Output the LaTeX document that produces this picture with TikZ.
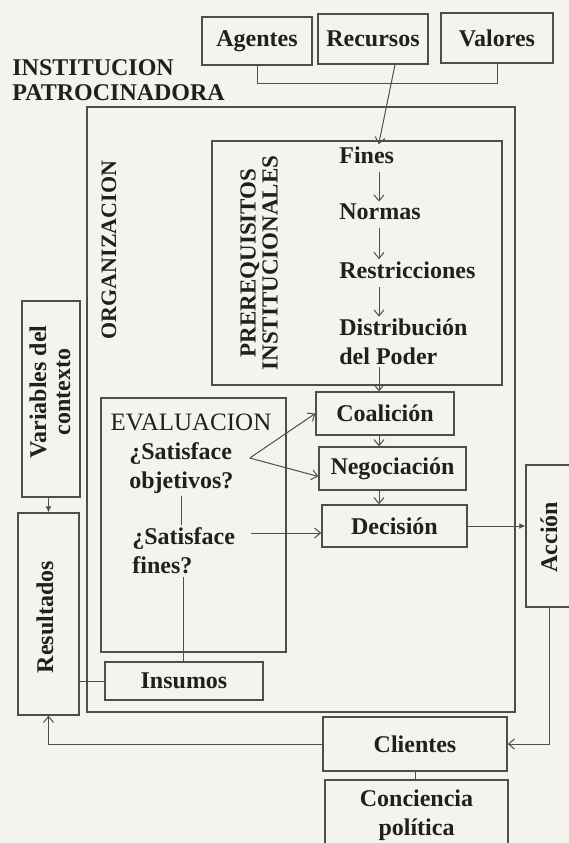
\documentclass[tikz,border=0pt]{standalone}
\usepackage{fontspec}
\setmainfont{Liberation Serif}
\usepackage{tikz}
\usetikzlibrary{arrows.meta,positioning,calc}
\usepackage{xcolor}
\definecolor{paper}{RGB}{245,243,238}
\definecolor{ink}{RGB}{34,32,30}
\definecolor{rule}{RGB}{80,78,75}

\begin{document}
\begin{tikzpicture}[x=0.5pt, y=-0.5pt,
    box/.style={rectangle, draw=rule, line width=0.7pt, inner sep=0pt, text=ink,
               font=\fontsize{12}{14.5}\selectfont\bfseries, align=center},
    lbl/.style={inner sep=1pt, text=ink, font=\fontsize{12}{14.5}\selectfont\bfseries, align=left},
    vlbl/.style={inner sep=1pt, rotate=90, text=ink, font=\fontsize{12}{12}\selectfont\bfseries, align=center},
    lnk/.style={draw=rule, line width=0.5pt},
    arr/.style={lnk, -{Straight Barb[length=3pt,width=5pt]}},
    arrs/.style={lnk, -{Latex[length=3pt,width=3pt]}}
]
    \path[use as bounding box, fill=paper] (0,0) rectangle (569,843);

    % Sponsoring institution and its inputs
    \node[lbl, anchor=west, font=\fontsize{12}{12.5}\selectfont\bfseries] (ip) at (10,80)
        {INSTITUCION\\PATROCINADORA};
    \node[box, minimum width=55pt, minimum height=24pt] (ag) at (257,41) {Agentes};
    \node[box, minimum width=55pt, minimum height=25pt] (rc) at (373,39) {Recursos};
    \node[box, minimum width=56pt, minimum height=25pt] (vl) at (497,38) {Valores};
    \draw[lnk] (ag.south) -- ++(0,18) -| (vl.south);

    % Organization frame
    \node[box, minimum width=214pt, minimum height=302.5pt] (org) at (301,409.5) {};
    \node[vlbl, font=\fontsize{11}{11}\selectfont\bfseries] (orgtxt) at (109,250) {ORGANIZACION};

    % Institutional prerequisites: Fines -> Normas -> Restricciones -> Poder
    \node[box, minimum width=145pt, minimum height=122pt] (pre) at (357,263) {};
    \node[vlbl, font=\fontsize{11.5}{11}\selectfont\bfseries] (pretxt) at (259,263)
        {PREREQUISITOS\\INSTITUCIONALES};
    \coordinate (sp) at (379,0);
    \node[lbl, anchor=west] (fi) at (337,155) {Fines};
    \node[lbl, anchor=west] (nm) at (337,212) {Normas};
    \node[lbl, anchor=west] (rt) at (337,270) {Restricciones};
    \node[lbl, anchor=west] (dp) at (337,342) {Distribución\\del Poder};
    \draw[arr] ([xshift=11pt]rc.south) -- ([xshift=6pt]fi.north);
    \draw[arr, shorten <=3pt] (fi.south -| sp) -- (nm.north -| sp);
    \draw[arr, shorten <=3pt] (nm.south -| sp) -- (rt.north -| sp);
    \draw[arr, shorten <=3pt] (rt.south -| sp) -- (dp.north -| sp);

    % Decision chain
    \node[box, minimum width=69pt, minimum height=21.5pt] (co) at (385,413.5) {Coalición};
    \node[box, minimum width=73.5pt, minimum height=21.5pt] (ne) at (392.5,468.5) {Negociación};
    \node[box, minimum width=72.5pt, minimum height=21pt] (de) at (394.5,526) {Decisión};
    \draw[arr] (dp.south -| sp) -- (co.north -| sp);
    \draw[arr] (co.south -| sp) -- (ne.north -| sp);
    \draw[arr] (ne.south -| sp) -- (de.north -| sp);

    % Evaluation
    \node[box, minimum width=92.5pt, minimum height=127pt] (ev) at (193.5,525) {};
    \node[lbl, font=\fontsize{12.5}{12.5}\selectfont] (evtxt) at (191,422) {EVALUACION};
    \node[lbl, anchor=west] (so) at (127,468) {¿Satisface\\objetivos?};
    \node[lbl, anchor=west] (sf) at (130,551) {¿Satisface\\fines?};
    \node[box, minimum width=79pt, minimum height=19pt] (in) at (184,681) {Insumos};
    \draw[lnk] (so.south) -- (so.south |- sf.north);
    \draw[lnk] (sf.south) -- (sf.south |- in.north);
    \coordinate (fork) at ([xshift=7pt,yshift=5pt]so.east);
    \draw[arr] (fork) -- (co.west);
    \draw[arr] (fork) -- ([yshift=-4pt]ne.west);
    \draw[arr] ([xshift=7pt,yshift=9pt]sf.east) coordinate (sfo) -- (sfo -| de.west);

    % Action and clients
    \node[box, minimum width=27.5pt, minimum height=71pt] (ac) at (553.5,536) {};
    \node[vlbl] (actxt) at (549,537) {Acción};
    \node[box, minimum width=92pt, minimum height=27pt] (cl) at (415,744) {Clientes};
    \node[box, minimum width=91.5pt, minimum height=35pt] (cp) at (416.5,815) {Conciencia\\política};
    \draw[arrs] (de.east) -- (de.east -| ac.west);
    \draw[arr] (actxt |- ac.south) |- (cl.east);
    \draw[lnk] (cl.south) -- (cl.south |- cp.north);

    % Context and results
    \node[box, minimum width=29pt, minimum height=98pt] (vc) at (51,399) {};
    \node[vlbl] (vctxt) at (50,392) {Variables del\\contexto};
    \node[box, minimum width=30.5pt, minimum height=101pt] (res) at (48.5,614) {};
    \node[vlbl] (restxt) at (45,617) {Resultados};
    \draw[arrs] (vc.south -| res.north) -- (res.north);
    \draw[lnk] (in.west) -- (in.west -| res.east);
    \draw[arr] (cl.west) -| (res.south);
\end{tikzpicture}
\end{document}
